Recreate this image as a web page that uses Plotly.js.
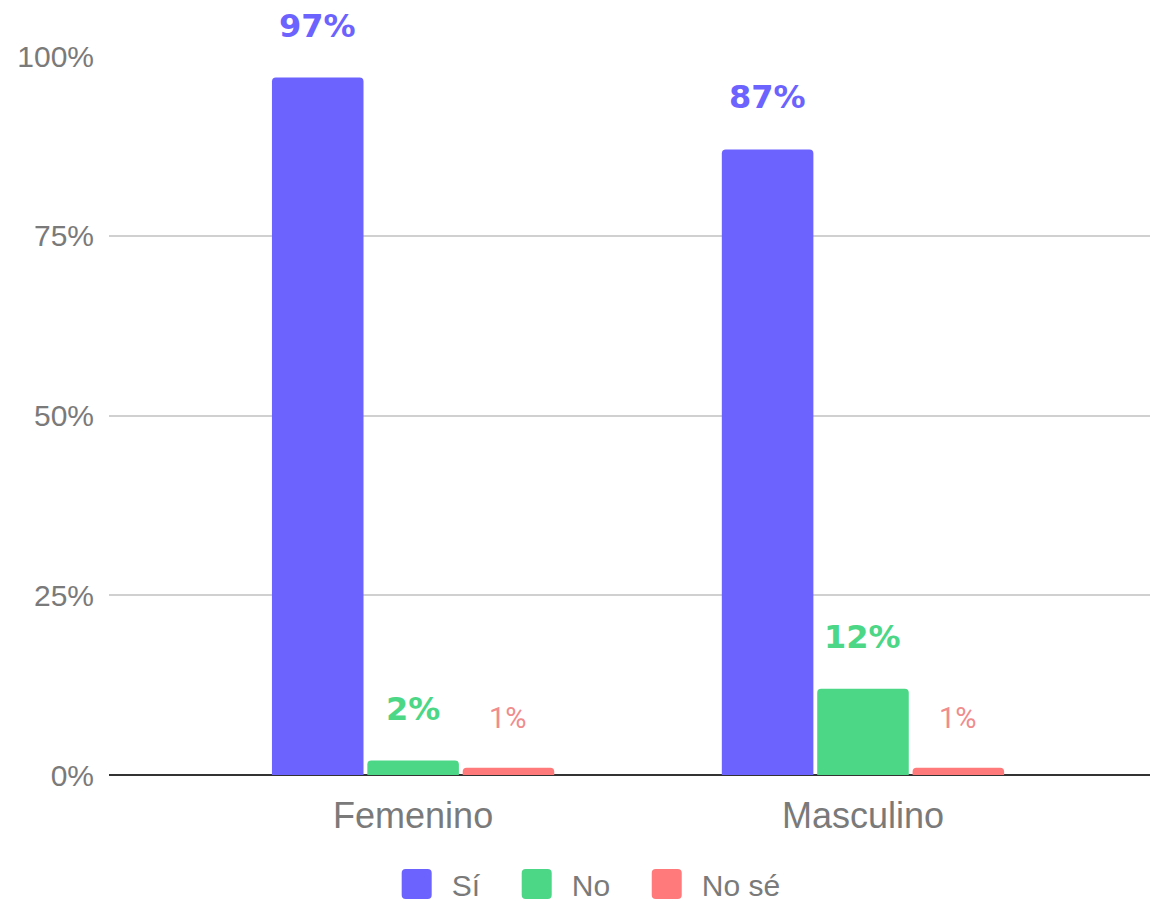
<!DOCTYPE html>
<html>
<head>
<meta charset="utf-8">
<script src="https://cdn.plot.ly/plotly-3.0.1.min.js"></script>
<style>
  html, body { margin: 0; padding: 0; background: #fff; }
  #chart { width: 1153px; height: 901px; }
</style>
</head>
<body>
<div id="chart"></div>
<script>
// data
const categories = ["Femenino", "Masculino"];
const seriesNames = ["Sí", "No", "No sé"];
const siValues = [97, 87];
const noValues = [2, 12];
const nsValues = [1, 1];
const yTicks = [0, 25, 50, 75, 100];

const barColors = ["#6c63ff", "#4cd787", "#ff7b7b"];
const labelColors = ["#6c63ff", "#4cd787", "#f08c8c"];
const labelBold = [true, true, false];

const bargap = 0.364;
const bargroupgap = 0.04;

const allValues = [siValues, noValues, nsValues];

// trailing nbsp just widens the gap between legend entries
const pad = "\u00a0\u00a0";

const data = allValues.map((vals, k) => ({
    x: categories,
    y: vals,
    name: seriesNames[k] + (k < allValues.length - 1 ? pad : ""),
    type: "bar",
    marker: { color: barColors[k], cornerradius: 4 },
    hoverinfo: "skip"
}));

// value labels sit ~40px above each bar
const slot = (1 - bargap) / allValues.length;
const annotations = [];
allValues.forEach((vals, k) => {
    vals.forEach((v, i) => {
        annotations.push({
            x: i + (k - 1) * slot,
            y: v,
            xref: "x",
            yref: "y",
            text: v + "%",
            showarrow: false,
            yanchor: "bottom",
            yshift: 31,
            font: {
                family: labelBold[k] ? "DejaVu Sans" : "Roboto",
                size: labelBold[k] ? 32 : 29,
                weight: labelBold[k] ? 900 : 400,
                color: labelColors[k]
            }
        });
    });
});

const layout = {
    width: 1153,
    height: 901,
    margin: { l: 109, r: 3, t: 56, b: 126 },
    paper_bgcolor: "#ffffff",
    plot_bgcolor: "#ffffff",
    font: { family: "Liberation Sans, Arial, sans-serif", color: "#7a7a7a" },
    barmode: "group",
    bargap: bargap,
    bargroupgap: bargroupgap,
    showlegend: true,
    legend: {
        orientation: "h",
        xref: "paper",
        yref: "container",
        x: 0.456,
        xanchor: "center",
        y: 0.019,
        yanchor: "middle",
        itemwidth: 60,
        itemclick: false,
        font: { size: 30, color: "#7a7a7a" }
    },
    xaxis: {
        type: "category",
        range: [-0.676, 1.638],
        showgrid: false,
        showline: false,
        zeroline: false,
        ticks: "",
        ticklabelstandoff: 16,
        tickfont: { size: 36, color: "#7a7a7a" },
        fixedrange: true
    },
    yaxis: {
        range: [0, 100],
        tickmode: "array",
        tickvals: yTicks,
        ticktext: yTicks.map(t => t + "%"),
        showgrid: true,
        gridcolor: "#d0d0d0",
        gridwidth: 2,
        zeroline: true,
        zerolinecolor: "#333333",
        zerolinewidth: 2,
        showline: false,
        ticks: "",
        ticklabelstandoff: 14,
        tickfont: { size: 30, color: "#7a7a7a" },
        fixedrange: true
    },
    annotations: annotations
};

const gd = document.getElementById("chart");

// bigger rounded legend swatches, like the original
function bigSwatches() {
    gd.querySelectorAll(".legend .legendpoints path").forEach(p => {
        p.setAttribute("d", "M-15,-11Q-15,-15 -11,-15H11Q15,-15 15,-11V11Q15,15 11,15H-11Q-15,15 -15,11Z");
    });
}

Plotly.newPlot(gd, data, layout, { displayModeBar: false }).then(() => {
    bigSwatches();
    gd.on("plotly_afterplot", bigSwatches);
    setTimeout(bigSwatches, 50);
    setTimeout(bigSwatches, 300);
});
</script>
</body>
</html>
